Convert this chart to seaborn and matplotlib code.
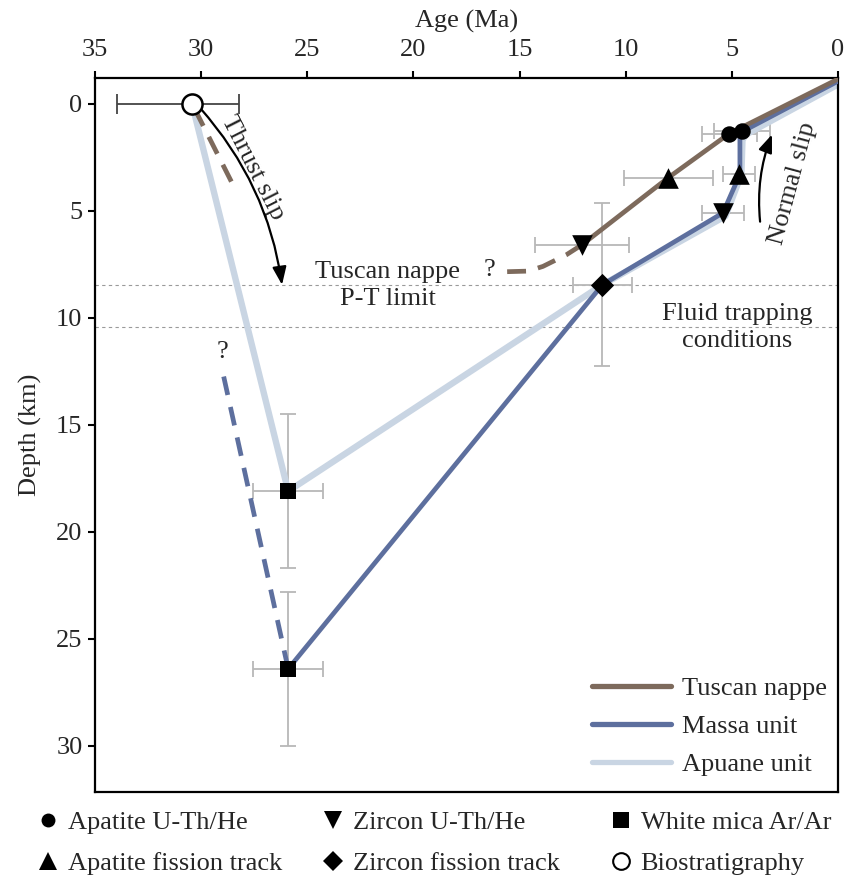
import numpy as np
import pandas as pd
import matplotlib
matplotlib.use("Agg")
import matplotlib.pyplot as plt
from matplotlib.lines import Line2D
import seaborn as sns

# ---------------- data ----------------
# Cooling / burial paths (age in Ma, depth in km)
tuscan_age = [0.0, 5.13, 8.0, 12.06]
tuscan_depth = [-1.15, 1.4, 3.46, 6.59]
tuscan_dash_age = [12.06, 12.8, 13.9, 14.6, 15.7]
tuscan_dash_depth = [6.59, 7.06, 7.6, 7.82, 7.85]
tuscan_early_age = [30.3, 28.5]
tuscan_early_depth = [0.25, 3.79]

massa_age = [0.0, 4.5, 4.62, 4.62, 5.42, 11.1, 25.9]
massa_depth = [-1.05, 1.3, 1.55, 3.3, 5.1, 8.46, 26.4]
massa_dash_age = [25.9, 28.97]
massa_dash_depth = [26.4, 12.6]

apuane_age = [0.0, 4.35, 4.5, 4.55, 5.3, 11.1, 25.9, 30.43]
apuane_depth = [-0.9, 1.45, 1.7, 3.3, 5.25, 8.46, 18.1, 0.0]

# Thermochronology / geochronology points
pt_method = ["Apatite U-Th/He", "Apatite U-Th/He", "Apatite fission track",
             "Apatite fission track", "Zircon U-Th/He", "Zircon U-Th/He",
             "Zircon fission track", "White mica Ar/Ar", "White mica Ar/Ar"]
pt_age = [5.13, 4.52, 8.0, 4.66, 12.06, 5.42, 11.1, 25.9, 25.9]
pt_depth = [1.4, 1.27, 3.46, 3.3, 6.59, 5.1, 8.46, 18.1, 26.4]
pt_xerr = [1.3, 1.3, 2.1, 0.76, 2.2, 1.0, 1.4, 1.65, 1.65]
pt_yerr = [0, 0, 0, 0, 0, 0, 3.8, 3.6, 3.6]

bio_age = [30.43]
bio_depth = [0.0]
bio_xerr_low = [2.21]
bio_xerr_high = [3.53]

pt_limit_depth = 8.46
fluid_depth = 10.44

# ---------------- style ----------------
sns.set_theme(style="white")
plt.rcParams["font.family"] = ["Liberation Serif", "DejaVu Serif"]
plt.rcParams["mathtext.fontset"] = "stix"

C_TUSCAN = "#7d6a5c"
C_MASSA = "#5d6f9e"
C_APUANE = "#c9d5e3"
C_ERR = "#b8b8b8"
FS = 19

fig = plt.figure(figsize=(8.49, 8.81), dpi=100)
ax = fig.add_axes([95 / 849, 1 - 792 / 881, (838 - 95) / 849, (792 - 78) / 881])

# guide lines
for d in (pt_limit_depth, fluid_depth):
    ax.axhline(d, color="#9a9a9a", lw=0.8, ls=(0, (3, 3)), zorder=1)

# error bars
ax.errorbar(pt_age, pt_depth, xerr=pt_xerr, yerr=pt_yerr, fmt="none",
            ecolor=C_ERR, elinewidth=1.3, capsize=6, capthick=1.3, zorder=1.5)
ax.errorbar(bio_age, bio_depth, xerr=[bio_xerr_low, bio_xerr_high], fmt="none",
            ecolor="#444444", elinewidth=1.3, capsize=7, capthick=1.3, zorder=1.5)

# paths
LW = 3.4
sns.lineplot(x=apuane_age, y=apuane_depth, sort=False, estimator=None, ax=ax,
             color=C_APUANE, lw=4.6, zorder=2)
sns.lineplot(x=massa_age, y=massa_depth, sort=False, estimator=None, ax=ax,
             color=C_MASSA, lw=LW, zorder=3)
sns.lineplot(x=massa_dash_age, y=massa_dash_depth, sort=False, estimator=None, ax=ax,
             color=C_MASSA, lw=LW, ls=(0, (4, 2.6)), zorder=3)
sns.lineplot(x=tuscan_age, y=tuscan_depth, sort=False, estimator=None, ax=ax,
             color=C_TUSCAN, lw=LW, zorder=3.5)
sns.lineplot(x=tuscan_dash_age, y=tuscan_dash_depth, sort=False, estimator=None, ax=ax,
             color=C_TUSCAN, lw=LW, ls=(0, (4, 2.6)), zorder=3.5)
sns.lineplot(x=tuscan_early_age, y=tuscan_early_depth, sort=False, estimator=None, ax=ax,
             color=C_TUSCAN, lw=LW, ls=(0, (4, 2.6)), zorder=3.5)

# markers
markers = {"Apatite U-Th/He": "o", "Apatite fission track": "^",
           "Zircon U-Th/He": "v", "Zircon fission track": "D",
           "White mica Ar/Ar": "s"}
sizes = {"Apatite U-Th/He": 140, "Apatite fission track": 220,
         "Zircon U-Th/He": 220, "Zircon fission track": 140,
         "White mica Ar/Ar": 140}
pts = pd.DataFrame({"age": pt_age, "depth": pt_depth, "method": pt_method})
for m, sub in pts.groupby("method"):
    sns.scatterplot(data=sub, x="age", y="depth", marker=markers[m], s=sizes[m],
                    color="black", edgecolor="black", linewidth=0, ax=ax,
                    zorder=5, legend=False)
sns.scatterplot(x=bio_age, y=bio_depth, marker="o", s=210, facecolor="white",
                edgecolor="black", linewidth=1.8, ax=ax, zorder=6, legend=False)

# axes
ax.set_xlim(35, 0)
ax.set_ylim(32.15, -1.2)
ax.xaxis.tick_top()
ax.xaxis.set_label_position("top")
ax.set_xticks([35, 30, 25, 20, 15, 10, 5, 0])
ax.set_yticks([0, 5, 10, 15, 20, 25, 30])
ax.set_xlabel("Age (Ma)", fontsize=FS, labelpad=8)
ax.set_ylabel("Depth (km)", fontsize=FS, labelpad=10)
ax.tick_params(axis="both", which="both", direction="out", length=5, width=1.5,
               labelsize=FS, color="black", pad=4)
ax.tick_params(axis="x", top=True, bottom=False, labeltop=True, labelbottom=False,
               pad=7.5)
ax.tick_params(axis="y", left=True)
for s in ax.spines.values():
    s.set_color("black")
    s.set_linewidth(1.6)

# annotations
ax.text(21.2, 8.5, "Tuscan nappe\nP-T limit", fontsize=FS, ha="center", va="center",
        linespacing=1.3)
ax.text(4.76, 10.47, "Fluid trapping\nconditions", fontsize=FS, ha="center",
        va="center", linespacing=1.3)
ax.text(16.4, 7.76, "?", fontsize=FS, ha="center", va="center")
ax.text(29.0, 11.6, "?", fontsize=FS, ha="center", va="center")

ax.annotate("", xy=(26.19, 8.46), xytext=(30.05, 0.2),
            arrowprops=dict(arrowstyle="-|>,head_length=0.9,head_width=0.35",
                            connectionstyle="arc3,rad=-0.15", color="black", lw=1.6,
                            shrinkA=0, shrinkB=0), zorder=4)
ax.text(27.55, 3.0, "Thrust slip", fontsize=FS, rotation=-63, ha="center",
        va="center", rotation_mode="anchor")
ax.annotate("", xy=(3.11, 1.44), xytext=(3.67, 5.51),
            arrowprops=dict(arrowstyle="-|>,head_length=0.9,head_width=0.35",
                            connectionstyle="arc3,rad=-0.12", color="black", lw=1.6,
                            shrinkA=0, shrinkB=0), zorder=4)
ax.text(2.12, 3.74, "Normal slip", fontsize=FS, rotation=75, ha="center",
        va="center", rotation_mode="anchor")

# unit legend (inside)
unit_handles = [Line2D([], [], color=C_TUSCAN, lw=3.8),
                Line2D([], [], color=C_MASSA, lw=3.8),
                Line2D([], [], color=C_APUANE, lw=3.8)]
ax.legend(unit_handles, ["Tuscan nappe", "Massa unit", "Apuane unit"],
          loc="lower right", bbox_to_anchor=(0.985, 0.022), frameon=False,
          fontsize=FS, handlelength=3.0, handletextpad=0.4, labelspacing=0.55,
          borderaxespad=0, borderpad=0)

# method legend (below)
col_specs = [
    (40 / 849, [("o", "black", 10, "Apatite U-Th/He"), ("^", "black", 13, "Apatite fission track")]),
    (325 / 849, [("v", "black", 13, "Zircon U-Th/He"), ("D", "black", 10, "Zircon fission track")]),
    (613 / 849, [("s", "black", 11, "White mica Ar/Ar"), ("o", "white", 12, "Biostratigraphy")]),
]
for x0, entries in col_specs:
    hs = [Line2D([], [], ls="none", marker=mk, markersize=ms, markerfacecolor=fc,
                 markeredgecolor="black", markeredgewidth=1.5 if fc == "white" else 0)
          for mk, fc, ms, _ in entries]
    fig.legend(hs, [e[3] for e in entries], loc="upper left",
               bbox_to_anchor=(x0, 1 - 811 / 881), frameon=False, fontsize=FS,
               handlelength=0.6, handletextpad=0.45, labelspacing=0.65,
               borderaxespad=0, borderpad=0)

fig.savefig("out.png", dpi=100)
